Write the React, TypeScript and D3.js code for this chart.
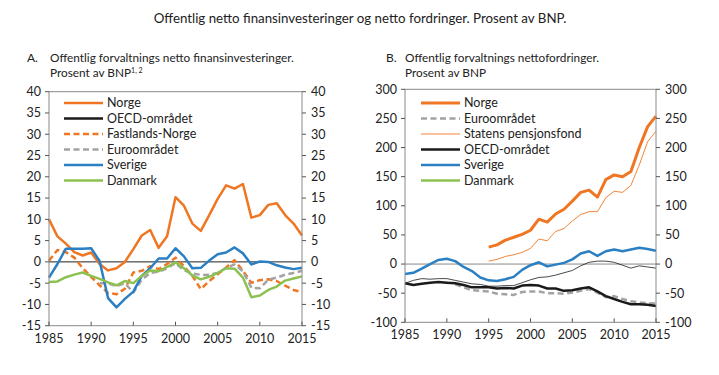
import React from "react";
import * as d3 from "d3";

const years: number[] = d3.range(1985, 2016);
const yearsFrom1995: number[] = d3.range(1995, 2016);
const yearsFrom1991: number[] = d3.range(1991, 2016);
const xTicks = [1985, 1990, 1995, 2000, 2005, 2010, 2015];

// Panel A – netto finansinvesteringer (% av BNP)
const aNorge = [10, 6, 4.3, 2.3, 1.5, 2.2, -0.5, -2, -1.5, 0, 3, 6.2, 7.5, 3.3, 6, 15.2, 13.2, 9, 7.3, 11, 14.8, 18, 17.2, 18.3, 10.4, 11, 13.4, 13.8, 11, 9, 6.2];
const aFastland = [0.3, 2.8, 2.3, 1, -1.5, -3.5, -5.5, -7.3, -7.6, -6.3, -2.5, -2.1, -1, -1.7, -0.5, 1, -1, -3.3, -6.4, -4.5, -2.9, -1.3, 0.4, -2.1, -4.9, -4.3, -4.1, -4.5, -5.6, -6.6, -7.1];
const aEuro = [-5, -5, -5.7, -5, -7.2, -4.2, -2.6, -2.3, -1.5, -0.3, -2, -2.7, -3.1, -3, -2.6, -1.4, -0.6, -2.2, -6.1, -6.2, -4.2, -3.7, -3, -2.6, -2.1];
const aSverige = [-3.7, -0.5, 3.1, 3.1, 3.1, 3.2, 0.2, -8.5, -10.7, -8.7, -7, -3.3, -1.5, 0.8, 0.8, 3.2, 1.3, -1.5, -1.4, 0.3, 1.8, 2.2, 3.4, 2, -0.6, 0.1, 0, -0.8, -1.3, -1.7, -1.4];
const aDanmark = [-4.7, -4.6, -3.6, -3, -2.5, -3.3, -4, -4.8, -5.5, -4.5, -5, -3.3, -2, -2.2, -1.2, -0.1, -1.5, -3.2, -4.1, -3.5, -2.6, -1.5, -1.6, -3.7, -8.3, -7.9, -6.6, -5.8, -4.4, -3.9, -3.4];
const aTicks = [40, 35, 30, 25, 20, 15, 10, 5, 0, -5, -10, -15];

// Panel B – nettofordringer (% av BNP)
const bNorge = [29, 33, 41, 46, 51, 58, 77, 72, 86, 94, 108, 123, 127, 115, 145, 153, 150, 159, 200, 236, 254];
const bSpf = [5, 8, 13, 16, 20, 27, 43, 40, 56, 61, 74, 85, 90, 90, 114, 125, 123, 135, 170, 210, 228];
const bEuro = [-35, -40, -45, -46, -47, -51, -52, -53, -48, -47, -47, -50, -50, -51, -49, -46, -43, -49, -57, -55, -60, -64, -66, -67, -68];
const bOecd = [-33, -36, -34, -32, -31, -32, -33, -36, -40, -40, -40, -42, -41, -42, -37, -36, -37, -42, -42, -46, -45, -42, -40, -47, -55, -60, -65, -69, -69, -70, -72];
const bThin = [-33, -28, -25, -26, -25, -25, -28, -31, -34, -35, -38, -38, -37, -37, -32, -27, -23, -22, -19, -15, -11, -3, 3, 5, 5, 3, -2, -7, -3, -5, -7];
const bSverige = [-17, -15, -8, 0, 7, 9, 5, -5, -12, -23, -28, -29, -26, -22, -10, -2, 3, -4, -1, 2, 8, 18, 22, 14, 22, 25, 22, 25, 28, 26, 23];
const bTicks = [300, 250, 200, 150, 100, 50, 0, -50, -100];

const ORANGE = "#EF7622";
const BLUE = "#2B7FC3";
const GREEN = "#8CC152";
const GRAY = "#A3A3A3";
const BLACK = "#1a1a1a";
const FONT = "Lato, 'Open Sans', sans-serif";

type Series = { name: string; xs: number[]; ys: number[]; color: string; width: number; dash?: string; legend?: boolean; draw?: boolean };

function Panel(props: {
  x0: number; x1: number; y0: number; y1: number;
  domain: [number, number]; ticks: number[];
  series: Series[]; zeroColor: string;
  legendX: number; legendY: number;
}) {
  const { x0, x1, y0, y1, domain, ticks, series, zeroColor, legendX, legendY } = props;
  const x = d3.scaleLinear().domain([1985, 2015]).range([x0, x1]);
  const y = d3.scaleLinear().domain(domain).range([y1, y0]);
  const line = d3.line<[number, number]>().x((d) => x(d[0])).y((d) => y(d[1]));
  const legendItems = series.filter((s) => s.legend !== false);
  return (
    <g>
      <line x1={x0} x2={x1} y1={y(0)} y2={y(0)} stroke={zeroColor} strokeWidth={1} />
      {series.filter((s) => s.draw !== false).map((s) => (
        <path key={s.name} d={line(s.xs.map((xx, i) => [xx, s.ys[i]]) as [number, number][]) || ""}
          fill="none" stroke={s.color} strokeWidth={s.width} strokeDasharray={s.dash} strokeLinejoin="round" />
      ))}
      <rect x={x0} y={y0} width={x1 - x0} height={y1 - y0} fill="none" stroke="#8a8a8a" strokeWidth={1} />
      {ticks.map((t) => (
        <g key={t}>
          <line x1={x0 - 4} x2={x0} y1={y(t)} y2={y(t)} stroke="#555" />
          <line x1={x1} x2={x1 + 4} y1={y(t)} y2={y(t)} stroke="#555" />
          <text x={x0 - 8} y={y(t)} dy="0.35em" textAnchor="end" fontSize={12.5} fontFamily={FONT} fill="#222">{t}</text>
          <text x={x1 + 9} y={y(t)} dy="0.35em" textAnchor="start" fontSize={12.5} fontFamily={FONT} fill="#222">{t}</text>
        </g>
      ))}
      {xTicks.map((t) => (
        <g key={t}>
          <line x1={x(t)} x2={x(t)} y1={y1} y2={y1 - 4} stroke="#555" />
          <text x={x(t)} y={y1 + 17} textAnchor="middle" fontSize={12.5} fontFamily={FONT} fill="#222">{t}</text>
        </g>
      ))}
      {legendItems.map((s, i) => (
        <g key={s.name} transform={`translate(${legendX},${legendY + i * 15.5})`}>
          <line x1={0} x2={39} y1={0} y2={0} stroke={s.color} strokeWidth={s.width} strokeDasharray={s.dash} />
          <text x={43} y={0} dy="0.35em" fontSize={12.5} fontFamily={FONT} fill="#222">{s.name}</text>
        </g>
      ))}
    </g>
  );
}

export default function App() {
  const seriesA: Series[] = [
    { name: "Norge", xs: years, ys: aNorge, color: ORANGE, width: 2.5 },
    { name: "OECD-området", xs: [], ys: [], color: BLACK, width: 2.5, draw: false },
    { name: "Fastlands-Norge", xs: years, ys: aFastland, color: ORANGE, width: 2.5, dash: "6,3.5" },
    { name: "Euroområdet", xs: yearsFrom1991, ys: aEuro, color: GRAY, width: 2.5, dash: "6,3.5" },
    { name: "Sverige", xs: years, ys: aSverige, color: BLUE, width: 2.5 },
    { name: "Danmark", xs: years, ys: aDanmark, color: GREEN, width: 2.5 },
  ];
  const seriesB: Series[] = [
    { name: "Norge", xs: yearsFrom1995, ys: bNorge, color: ORANGE, width: 3 },
    { name: "Euroområdet", xs: yearsFrom1991, ys: bEuro, color: GRAY, width: 2.5, dash: "6,3.5" },
    { name: "Statens pensjonsfond", xs: yearsFrom1995, ys: bSpf, color: ORANGE, width: 0.9 },
    { name: "OECD-området", xs: years, ys: bOecd, color: BLACK, width: 2.5 },
    { name: "Sverige", xs: years, ys: bSverige, color: BLUE, width: 2.5 },
    { name: "Danmark", xs: [], ys: [], color: GREEN, width: 2.5, draw: false },
    { name: "tynn", xs: years, ys: bThin, color: BLACK, width: 0.8, legend: false },
  ];
  return (
    <svg width={703} height={360} style={{ display: "block", background: "#fff" }}>
      <g transform="translate(-8,-8)">
        <text x={360} y={23} textAnchor="middle" fontSize={13.3} fontFamily={FONT} fill="#222">
          Offentlig netto finansinvesteringer og netto fordringer. Prosent av BNP.
        </text>
        <text x={27} y={62} fontSize={12} fontFamily={FONT} fill="#222">A.</text>
        <text x={50} y={62} fontSize={11.8} fontFamily={FONT} fill="#222">Offentlig forvaltnings netto finansinvesteringer.</text>
        <text x={50} y={77} fontSize={11.8} fontFamily={FONT} fill="#222">
          Prosent av BNP<tspan fontSize={7} dy={-4}>1, 2</tspan>
        </text>
        <text x={386} y={62} fontSize={12} fontFamily={FONT} fill="#222">B.</text>
        <text x={405} y={62} fontSize={11.8} fontFamily={FONT} fill="#222">Offentlig forvaltnings nettofordringer.</text>
        <text x={405} y={77} fontSize={11.8} fontFamily={FONT} fill="#222">Prosent av BNP</text>
        <Panel x0={49} x1={302} y0={91.7} y1={325.7} domain={[-15, 40]} ticks={aTicks}
          series={seriesA} zeroColor="#222" legendX={64} legendY={103} />
        <Panel x0={405} x1={656} y0={89.3} y1={322.3} domain={[-100, 300]} ticks={bTicks}
          series={seriesB} zeroColor="#888" legendX={421} legendY={103} />
      </g>
    </svg>
  );
}
